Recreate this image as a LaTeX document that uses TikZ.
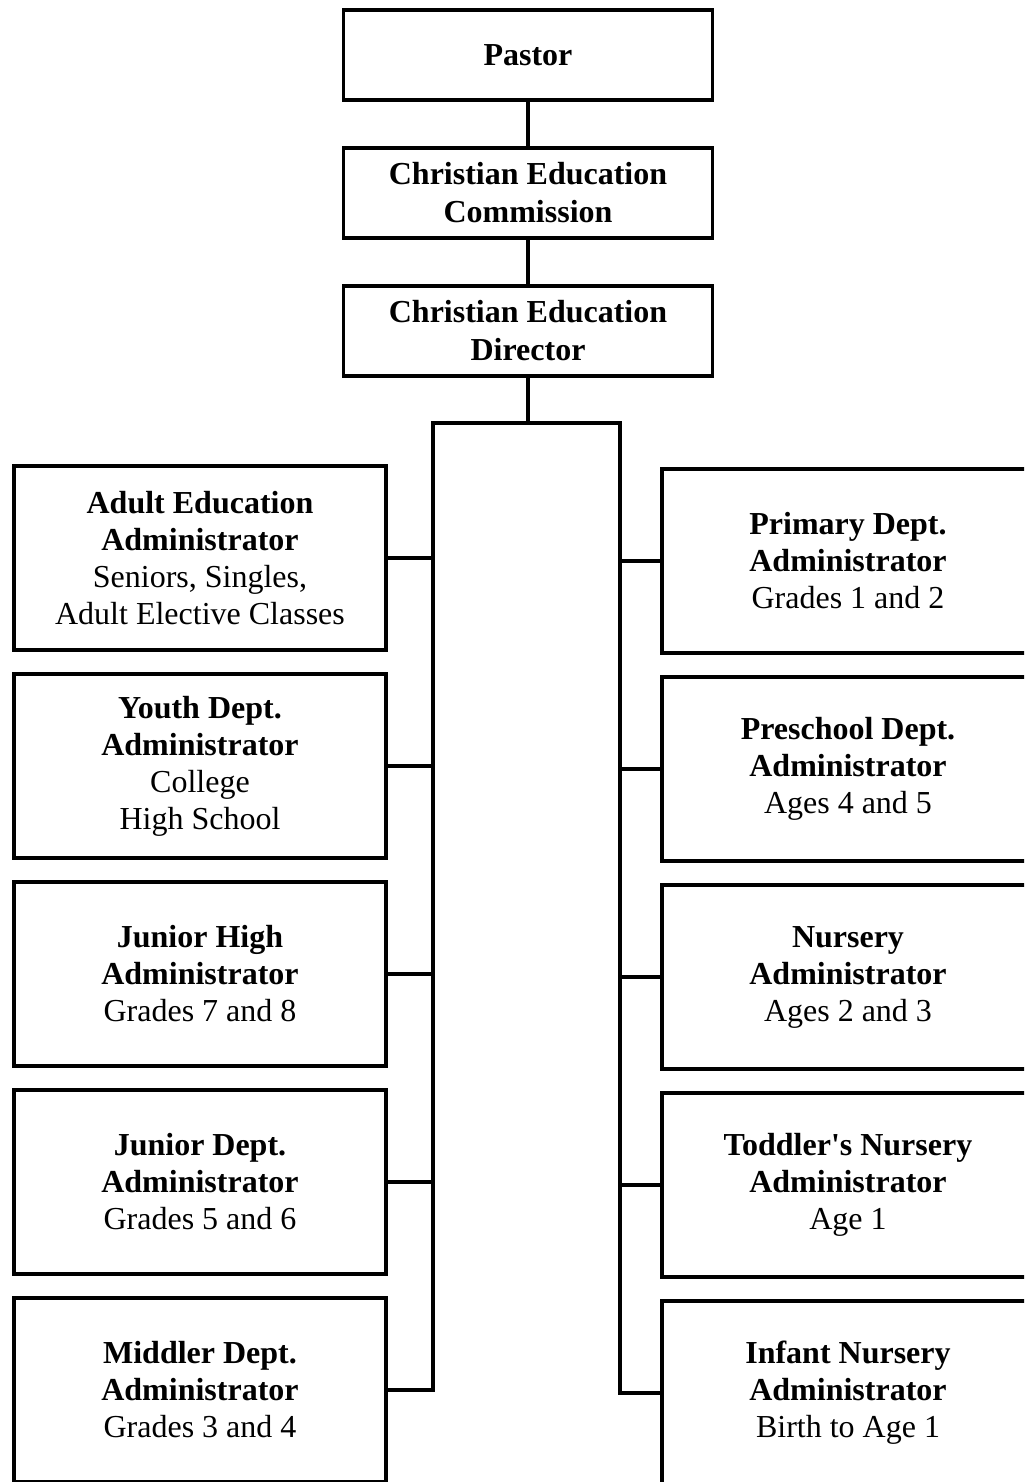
\documentclass[tikz,border=0pt]{standalone}
\usepackage{fontspec}
\setmainfont{Liberation Serif}
\usetikzlibrary{positioning}

\begin{document}
\begin{tikzpicture}[
    x=0.5pt, y=-0.5pt, node distance=69pt, on grid,
    font=\fontsize{16}{18.5}\selectfont,
    box/.style={draw, line width=1.6pt, rectangle, minimum width=184.5pt,
      minimum height=45pt, inner sep=0pt, align=center,
      font=\fontsize{16}{19}\selectfont\bfseries},
    dept/.style={draw, line width=1.6pt, rectangle, minimum width=186pt,
      minimum height=92pt, inner sep=0pt, align=center},
    link/.style={line width=1.6pt}]
  \path[use as bounding box, clip] (0,0) rectangle (1024,1482);
  % top of the chart
  \node[box] (pastor) at (528,55) {Pastor};
  \node[box, below=of pastor] (cec) {Christian Education\\Commission};
  \node[box, below=of cec] (ced) {Christian Education\\Director};
  \coordinate (hub) at ([yshift=-23.5pt]ced.south);
  \coordinate (tl) at (433,423);
  \coordinate (tr) at (620,423);
  % left column
  \node[dept] (adult) at (200,558) {\textbf{Adult Education}\\\textbf{Administrator}\\Seniors, Singles,\\Adult Elective Classes};
  \node[dept, below=104pt of adult] (youth) {\textbf{Youth Dept.}\\\textbf{Administrator}\\College\\High School};
  \node[dept, below=104pt of youth] (jrhigh) {\textbf{Junior High}\\\textbf{Administrator}\\Grades 7 and 8};
  \node[dept, below=104pt of jrhigh] (junior) {\textbf{Junior Dept.}\\\textbf{Administrator}\\Grades 5 and 6};
  \node[dept, below=104pt of junior] (middler) {\textbf{Middler Dept.}\\\textbf{Administrator}\\Grades 3 and 4};
  % right column
  \node[dept] (primary) at (848,561) {\textbf{Primary Dept.}\\\textbf{Administrator}\\Grades 1 and 2};
  \node[dept, below=104pt of primary] (preschool) {\textbf{Preschool Dept.}\\\textbf{Administrator}\\Ages 4 and 5};
  \node[dept, below=104pt of preschool] (nursery) {\textbf{Nursery}\\\textbf{Administrator}\\Ages 2 and 3};
  \node[dept, below=104pt of nursery] (toddler) {\textbf{Toddler\textquotesingle s Nursery}\\\textbf{Administrator}\\Age 1};
  \node[dept, below=104pt of toddler] (infant) {\textbf{Infant Nursery}\\\textbf{Administrator}\\Birth to Age 1};
  % connectors
  \draw[link] (pastor) -- (cec);
  \draw[link] (cec) -- (ced);
  \draw[link] (ced) -- (hub);
  \draw[link] (middler.east) -| (tl) -- (tr) |- (infant.west);
  \foreach \n in {adult,youth,jrhigh,junior}
    \draw[link] (\n.east) -- (\n.east -| tl);
  \foreach \n in {primary,preschool,nursery,toddler}
    \draw[link] (\n.west) -- (\n.west -| tr);
\end{tikzpicture}
\end{document}
